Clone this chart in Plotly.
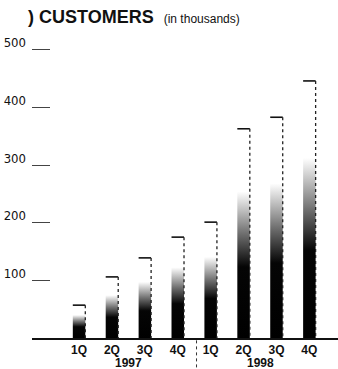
import plotly.graph_objects as go

# Customer counts per quarter, in thousands
quarters = ["1Q", "2Q", "3Q", "4Q", "1Q", "2Q", "3Q", "4Q"]
years = ["1997", "1998"]
customers = [57, 106, 139, 175, 201, 363, 383, 446]
y_ticks = [100, 200, 300, 400, 500]
y_tick_text = ["100", "200", "300", "400", "500"]

positions = list(range(len(customers)))
half = 0.19  # half bar width in category units

# dark at the base, fading out toward the top of each bar
fade = [[0.0, "#000000"], [0.34, "#050505"], [0.5, "#707070"],
        [0.7, "#ffffff"], [1.0, "#ffffff"]]

fig = go.Figure()

for pos, val in zip(positions, customers):
    fig.add_trace(go.Scatter(
        x=[pos - half, pos + half, pos + half, pos - half, pos - half],
        y=[0, 0, val, val, 0],
        mode="none", fill="toself",
        fillgradient=dict(type="vertical", colorscale=fade, start=0, stop=val),
        hoverinfo="skip", showlegend=False,
    ))

# top edge of each bar (solid) and right edge (dotted)
top_x, top_y, side_x, side_y = [], [], [], []
for pos, val in zip(positions, customers):
    top_x += [pos - half, pos + half, None]
    top_y += [val, val, None]
    side_x += [pos + half, pos + half, None]
    side_y += [val, 0, None]

fig.add_trace(go.Scatter(x=top_x, y=top_y, mode="lines",
                         line=dict(color="#111111", width=1.6),
                         hoverinfo="skip", showlegend=False))
fig.add_trace(go.Scatter(x=side_x, y=side_y, mode="lines",
                         line=dict(color="#222222", width=1.3, dash="dot"),
                         hoverinfo="skip", showlegend=False))

# year labels under the quarter labels
for i, yr in enumerate(years):
    fig.add_annotation(x=1.5 + 4 * i, y=-0.083, xref="x", yref="paper",
                       text=yr, showarrow=False, yanchor="middle",
                       font=dict(family="Liberation Sans", size=12,
                                 color="#111111", weight="bold"))

# dotted divider between the two years
fig.add_shape(type="line", x0=3.57, x1=3.57, y0=-0.008, y1=-0.11,
              xref="x", yref="paper",
              line=dict(color="#333333", width=1, dash="dot"))

fig.update_layout(
    width=338, height=369,
    margin=dict(l=32, r=0, t=40, b=31),
    paper_bgcolor="white", plot_bgcolor="white",
    title=dict(
        text="<b>) CUSTOMERS</b>  <span style='font-size:12px;font-weight:normal'>(in thousands)</span>",
        x=28 / 338, xanchor="left", xref="container",
        y=1 - 17 / 369, yanchor="middle", yref="container",
        font=dict(family="Liberation Sans", size=18, color="#111111"),
    ),
    xaxis=dict(
        range=[-1.43, 7.87], tickmode="array", tickvals=positions,
        ticktext=quarters, showgrid=False, zeroline=False,
        showline=True, linecolor="#111111", linewidth=1.6,
        ticks="", ticklabelstandoff=0,
        tickfont=dict(family="Liberation Sans", size=12, color="#111111",
                      weight="bold"),
        fixedrange=True,
    ),
    yaxis=dict(
        range=[0, 298 / 0.5764], tickmode="array", tickvals=y_ticks,
        ticktext=y_tick_text, showgrid=False, zeroline=False,
        showline=False, ticks="inside", ticklen=18, tickwidth=1,
        tickcolor="#444444", ticklabelstandoff=5, ticklabelshift=-7,
        tickfont=dict(family="Liberation Sans Narrow, DejaVu Sans Condensed, Liberation Sans",
                      size=13, color="#111111"),
        fixedrange=True,
    ),
)

fig.write_html("out.html")
